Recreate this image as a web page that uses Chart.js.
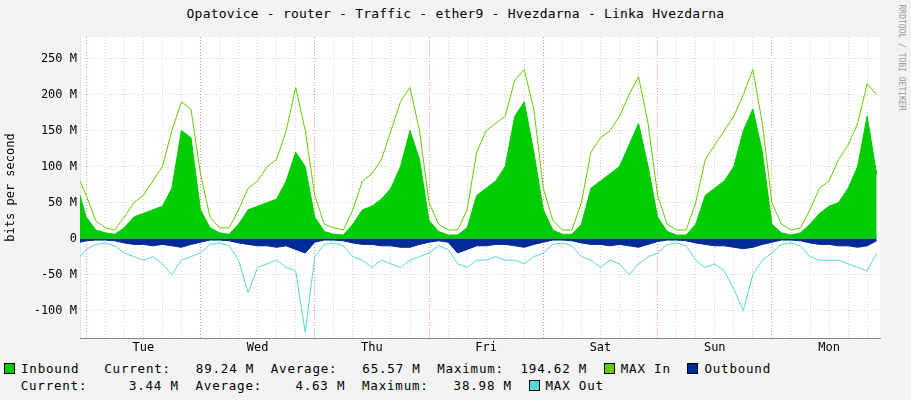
<!DOCTYPE html>
<html><head><meta charset="utf-8">
<script src="https://cdn.jsdelivr.net/npm/chart.js@4"></script>
<style>
body{margin:0;background:#f3f3f3;font-family:"DejaVu Sans Mono",monospace;}
#wrap{position:relative;width:911px;height:400px;}
#title{position:absolute;top:6px;left:0;width:911px;text-align:center;font-size:13px;letter-spacing:0.2px;color:#000;}
#side{position:absolute;right:-70px;top:80px;transform:rotate(90deg);font-size:8px;color:#999;width:160px;}
#leg{position:absolute;left:4px;top:360px;font-size:12.5px;letter-spacing:0.8px;white-space:pre;line-height:17px;}
.sw{display:inline-block;width:9px;height:9px;border:1px solid #000;margin-right:6px;vertical-align:-1px;}
canvas{position:absolute;left:0;top:0;}
</style></head><body>
<div id="wrap">
<div id="title">Opatovice - router - Traffic - ether9 - Hvezdarna - Linka Hvezdarna</div>
<div id="side">RRDTOOL / TOBI OETIKER</div>
<canvas id="c" width="911" height="360"></canvas>
<div id="leg"><span class="sw" style="background:#00cc00"></span>Inbound   Current:   89.24 M  Average:   65.57 M  Maximum:  194.62 M  <span class="sw" style="background:#66cc00"></span>MAX In  <span class="sw" style="background:#002a97"></span>Outbound
  Current:     3.44 M  Average:    4.63 M  Maximum:   38.98 M  <span class="sw" style="background:#55d8d8"></span>MAX Out</div>
</div>
<script>
const dayNames = ['Tue','Wed','Thu','Fri','Sat','Sun','Mon'];
const startHour = -1.3;
const inbound = [60,
  30,12,8,6,15,30,35,40,45,70,150,140,
  40,15,8,6,20,40,45,50,55,80,120,100,
  30,10,6,5,20,40,45,55,70,100,150,110,
  25,10,5,5,15,60,70,80,100,170,190,120,
  40,12,6,6,20,70,80,90,100,130,160,100,
  30,10,5,5,20,60,70,80,100,150,180,120,
  20,8,5,8,20,35,45,50,70,100,170,89];
const maxIn = [80,
  60,25,15,12,30,50,60,80,100,150,190,180,
  90,30,15,15,40,70,80,100,110,150,210,150,
  60,20,15,12,40,80,90,110,150,190,210,150,
  50,20,12,12,40,120,150,160,170,220,235,180,
  70,25,12,12,50,120,140,150,170,200,225,160,
  60,20,12,12,50,110,130,150,170,200,235,160,
  50,20,12,15,40,70,80,110,130,160,215,200];
const outbound = [-5,
  -3,-2,-2,-3,-6,-8,-8,-10,-8,-10,-12,-8,
  -5,-2,-2,-3,-6,-8,-10,-10,-12,-10,-15,-20,
  -5,-2,-2,-3,-6,-8,-8,-10,-10,-12,-12,-8,
  -5,-3,-5,-20,-15,-10,-10,-8,-8,-10,-12,-8,
  -5,-2,-2,-3,-6,-8,-8,-10,-8,-10,-12,-8,
  -4,-2,-2,-3,-6,-8,-10,-10,-12,-14,-12,-8,
  -5,-2,-2,-3,-6,-8,-8,-10,-10,-12,-10,-3];
const maxOut = [-25,
  -15,-8,-6,-10,-20,-25,-30,-25,-35,-50,-30,-25,
  -20,-8,-6,-10,-30,-75,-40,-35,-30,-40,-45,-130,
  -25,-8,-6,-10,-25,-30,-40,-30,-35,-40,-30,-25,
  -20,-10,-15,-35,-40,-30,-30,-25,-30,-30,-35,-25,
  -20,-8,-6,-10,-25,-30,-40,-30,-35,-50,-35,-25,
  -20,-8,-6,-10,-30,-40,-35,-45,-70,-100,-50,-30,
  -20,-8,-6,-10,-25,-30,-30,-30,-35,-40,-45,-20];

function pts(arr){
  return arr.map((v,i)=>({x: i==0 ? startHour : (i-1)*2, y: v}));
}
const line = {pointRadius:0, borderWidth:1, tension:0};

new Chart('c', {
  type: 'line',
  data: {datasets: [
    Object.assign({data: pts(inbound), fill:'origin', backgroundColor:'#00cc00', borderColor:'#00cc00', order:4}, line),
    Object.assign({data: pts(outbound), fill:'origin', backgroundColor:'#002a97', borderColor:'#002a97', order:3}, line),
    Object.assign({data: pts(maxIn), fill:false, borderColor:'#66cc00', order:2}, line),
    Object.assign({data: pts(maxOut), fill:false, borderColor:'#55d8d8', order:1}, line)
  ]},
  options: {
    responsive:false, animation:false,
    layout:{padding:{top:37,right:31}},
    plugins:{legend:{display:false}, tooltip:{enabled:false}},
    scales:{
      x:{type:'linear', min:startHour, max:166.7,
        afterFit: s => { s.height = 22; },
        afterBuildTicks: s => { s.ticks = []; for (let h=0; h<=166; h+=4) s.ticks.push({value:h}); },
        ticks:{autoSkip:false, maxRotation:0, font:{family:'DejaVu Sans Mono',size:12}, color:'#000',
          callback: v => (v%24==12) ? dayNames[(v-12)/24] : ''},
        grid:{color: c => (c.tick && c.tick.value%24==0) ? 'rgba(255,0,0,0.5)' : 'rgba(200,200,200,0.8)', lineWidth:1, drawTicks:false},
        border:{color:'#888', dash:[1,2]}
      },
      y:{min:-138, max:280,
        afterFit: s => { s.width = 80; },
        afterBuildTicks: s => { s.ticks = []; for (let v=-100; v<=250; v+=50) s.ticks.push({value:v}); },
        ticks:{font:{family:'DejaVu Sans Mono',size:12}, color:'#000', callback: v => v==0 ? '0' : v+' M'},
        title:{display:true, text:'bits per second', font:{family:'DejaVu Sans Mono',size:12}, color:'#000'},
        grid:{color:'rgba(200,200,200,0.8)', drawTicks:false},
        border:{dash:[1,2]}
      }
    }
  },
  plugins:[{id:'bg', beforeDraw(ch){const a=ch.chartArea,x=ch.ctx;x.save();x.fillStyle='#fff';x.fillRect(a.left,a.top,a.right-a.left,a.bottom-a.top);x.restore();}}]
});
</script>
</body></html>
